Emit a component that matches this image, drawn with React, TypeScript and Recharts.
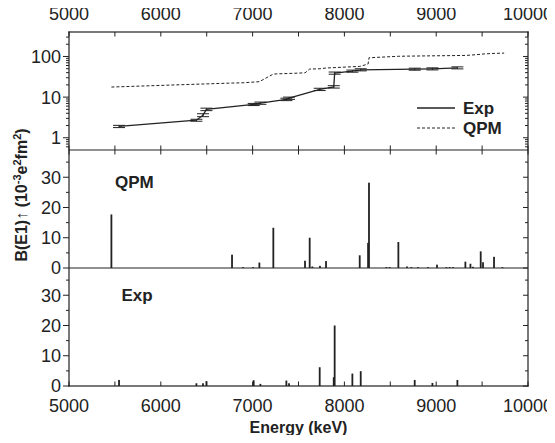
import React from 'react';
import {
  ComposedChart, Line, Bar, XAxis, YAxis, ErrorBar, Label, ReferenceLine, ReferenceArea,
} from 'recharts';

const INK = '#222';
const FONT = '"Liberation Sans", Arial, Helvetica, sans-serif';

// running sum of measured B(E1) strength, with uncertainties
const expSumEnergy = [5545, 6388, 6460, 6497, 7012, 7085, 7368, 7397, 7731, 7884, 7894, 8087, 8178, 8766, 8959, 9231];
const expSumValue = [1.9, 2.7, 3.6, 5.0, 6.6, 7.1, 8.8, 9.4, 15.5, 17.9, 39, 43.6, 47, 48.7, 49.6, 52.5];
const expSumError = [0.12, 0.15, 0.3, 0.35, 0.4, 0.45, 0.6, 0.6, 1.0, 1.2, 2.4, 2.6, 2.8, 2.8, 2.9, 3.0];

// running sum of QPM strength
const qpmSumEnergy = [5462, 6776, 6896, 7074, 7226, 7571, 7622, 7734, 7800, 8167, 8258, 8268, 8588, 8682, 9009, 9318, 9373, 9485, 9510, 9630, 9740];
const qpmSumValue = [17.7, 22.2, 22.5, 24, 37, 39.5, 49, 49.8, 52, 57, 65, 93, 101, 102, 104, 106, 108, 113, 115, 119, 121];

// individual QPM transitions
const qpmEnergy = [5462, 6776, 6896, 7005, 7074, 7226, 7571, 7622, 7651, 7734, 7800, 8167, 8258, 8268, 8457, 8493, 8588, 8682, 8730, 8802, 8911, 9009, 9111, 9147, 9183, 9318, 9373, 9401, 9485, 9510, 9630, 9721];
const qpmStrength = [17.7, 4.4, 0.3, 0.3, 1.8, 13.3, 2.4, 10.0, 0.5, 0.7, 2.3, 4.2, 8.3, 28.2, 0.3, 0.3, 8.6, 0.5, 0.3, 0.3, 0.3, 1.1, 0.3, 0.3, 0.3, 2.1, 1.4, 0.4, 5.5, 1.9, 3.7, 0.3];

// individual measured transitions
const expEnergy = [5545, 6388, 6460, 6497, 7012, 7085, 7368, 7397, 7731, 7884, 7894, 8087, 8178, 8766, 8959, 9231];
const expStrength = [2.0, 0.9, 0.9, 1.6, 1.9, 0.7, 1.8, 0.9, 6.2, 2.9, 20.0, 4.1, 4.9, 2.0, 1.0, 2.0];

const energyTicks = [5000, 5500, 6000, 6500, 7000, 7500, 8000, 8500, 9000, 9500, 10000];
const energyLabels = [5000, 6000, 7000, 8000, 9000, 10000];
const logTicks = [0.6, 0.7, 0.8, 0.9, 1, 2, 3, 4, 5, 6, 7, 8, 9, 10, 20, 30, 40, 50, 60, 70, 80, 90, 100, 200, 300];
const logLabels = [1, 10, 100];
const linTicks = [0, 5, 10, 15, 20, 25, 30, 35];
const linLabels = [0, 10, 20, 30];

const legendItems = [
  { name: 'Exp', dash: undefined as string | undefined },
  { name: 'QPM', dash: '3 2' },
];

const expSumData = expSumEnergy.map((e, i) => ({ e, v: expSumValue[i], err: expSumError[i] }));
const qpmSumData = qpmSumEnergy.map((e, i) => ({ e, v: qpmSumValue[i] }));
const stickData = [
  ...qpmEnergy.map((e, i) => ({ e, qpm: qpmStrength[i] })),
  ...expEnergy.map((e, i) => ({ e, exp: expStrength[i] })),
];

// plot spans 69..528 horizontally and 32..386 vertically, split at 150 and 268
const W = 555;
const H = 443;
const MARGIN = { top: 10, left: 20, right: 27, bottom: 20 };
const LEFT_W = 69 - MARGIN.left;
const TOP_H = 32 - MARGIN.top;
const BOTTOM_H = H - 386 - MARGIN.bottom;
const PLOT_W = W - 69 - MARGIN.right;
const SPLIT_1 = 150;
const THIN = 0.01;
const LW = 1.2;

// each y axis covers the whole plot height; its domain is stretched so
// that the visible range (0.5-400 or 0-39) falls inside its own panel
const LOG_DOMAIN = [7.81e-7, 400];
const MID_DOMAIN = [-39, 78];
const LOW_DOMAIN = [0, 117];
const MID_TOP = 39;

// top edge: inward marks, plus marks across the first panel boundary
function TopTick(p: any) {
  const x = Number(p.x);
  const y = Number(p.y);
  const v = p.payload.value;
  return (
    <g>
      <rect x={x - 0.5} y={y} width={1} height={4.5} fill={INK} />
      <rect x={x - 0.5} y={SPLIT_1 - 4.5} width={1} height={9} fill={INK} />
      {energyLabels.includes(v) && (
        <text x={x} y={y - 12.5} textAnchor="middle" fontSize={18} fontFamily={FONT} fill={INK}>
          {v}
        </text>
      )}
    </g>
  );
}

function BottomTick(p: any) {
  const x = Number(p.x);
  const y = Number(p.y);
  const v = p.payload.value;
  return (
    <g>
      <rect x={x - 0.5} y={y - 4.5} width={1} height={4.5} fill={INK} />
      {energyLabels.includes(v) && (
        <text x={x} y={y + 26} textAnchor="middle" fontSize={18} fontFamily={FONT} fill={INK}>
          {v}
        </text>
      )}
    </g>
  );
}

// outward tick + label on the left edge, inward tick on the right edge
function sideTick(p: any, majors: number[]) {
  const x = Number(p.x);
  const y = Number(p.y);
  const v = p.payload.value;
  const major = majors.includes(v);
  const left = major ? 6 : 3;
  const right = major ? 5 : 3;
  return (
    <g>
      <rect x={x - left} y={y - 0.5} width={left} height={1} fill={INK} />
      <rect x={x + PLOT_W - right} y={y - 0.5} width={right} height={1} fill={INK} />
      {major && (
        <text x={x - 8} y={y} dy="0.36em" textAnchor="end" fontSize={18} fontFamily={FONT} fill={INK}>
          {v}
        </text>
      )}
    </g>
  );
}
function LogTick(p: any) {
  return sideTick(p, logLabels);
}
function LinTick(p: any) {
  return sideTick(p, linLabels);
}

// outline of the whole plot area
function Frame(p: any) {
  const { x, y, width, height } = p;
  if (![x, y, width, height].every((n) => isFinite(n))) return null;
  return (
    <g>
      <rect x={x - LW / 2} y={y - LW / 2} width={width + LW} height={LW} fill={INK} />
      <rect x={x - LW / 2} y={y + height - LW / 2} width={width + LW} height={LW} fill={INK} />
      <rect x={x - LW / 2} y={y - LW / 2} width={LW} height={height + LW} fill={INK} />
      <rect x={x + width - LW / 2} y={y - LW / 2} width={LW} height={height + LW} fill={INK} />
    </g>
  );
}

function Stick(p: any) {
  const { x, y, width, height } = p;
  if (height == null || !isFinite(height) || !isFinite(x)) return null;
  const cx = x + width / 2;
  return <rect x={cx - 0.9} y={y} width={1.8} height={Math.max(height, 0)} fill={INK} />;
}

function AxisTitle() {
  const cx = 27;
  const cy = 195;
  return (
    <text
      x={cx}
      y={cy}
      transform={`rotate(-90 ${cx} ${cy})`}
      textAnchor="middle"
      fontSize={16}
      fontWeight="bold"
      fontFamily={FONT}
      fill={INK}
    >
      B(E1)↑ (10
      <tspan dy={-6} fontSize={11}>-3</tspan>
      <tspan dy={6}>e</tspan>
      <tspan dy={-6} fontSize={11}>2</tspan>
      <tspan dy={6}>fm</tspan>
      <tspan dy={-6} fontSize={11}>2</tspan>
      <tspan dy={6}>)</tspan>
    </text>
  );
}

function EnergyTitle() {
  return (
    <text x={69 + PLOT_W / 2} y={433} textAnchor="middle" fontSize={16} fontWeight="bold" fontFamily={FONT} fill={INK}>
      Energy (keV)
    </text>
  );
}

const textStyle: React.CSSProperties = {
  position: 'absolute',
  fontFamily: FONT,
  fontWeight: 'bold',
  fontSize: 17,
  lineHeight: '17px',
  color: INK,
};

export default function App() {
  return (
    <div style={{ position: 'relative', margin: -8, width: W, height: H }}>
      <ComposedChart width={W} height={H} margin={MARGIN} data={stickData}>
        <XAxis xAxisId="top" orientation="top" type="number" dataKey="e" domain={[5000, 10000]} ticks={energyTicks}
          interval={0} height={TOP_H} axisLine={false} tickLine={false} tickSize={0} tickMargin={0} tick={TopTick} />
        <XAxis xAxisId="bot" orientation="bottom" type="number" dataKey="e" domain={[5000, 10000]} ticks={energyTicks}
          interval={0} height={BOTTOM_H} axisLine={false} tickLine={false} tickSize={0} tickMargin={0} tick={BottomTick}>
          <Label content={EnergyTitle} />
        </XAxis>

        <YAxis yAxisId="a-mid" orientation="left" mirror type="number" domain={MID_DOMAIN} ticks={linTicks} interval={0}
          width={THIN} axisLine={false} tickLine={false} tickSize={0} tickMargin={0} tick={LinTick}>
          <Label content={AxisTitle} />
        </YAxis>
        <YAxis yAxisId="b-low" orientation="left" mirror type="number" domain={LOW_DOMAIN} ticks={linTicks} interval={0}
          width={THIN} axisLine={false} tickLine={false} tickSize={0} tickMargin={0} tick={LinTick} />
        <YAxis yAxisId="c-log" orientation="left" type="number" scale="log" domain={LOG_DOMAIN} ticks={logTicks}
          interval={0} width={LEFT_W} axisLine={false} tickLine={false} tickSize={0} tickMargin={0} tick={LogTick} />

        <ReferenceArea xAxisId="top" yAxisId="c-log" x1={5000} x2={10000} y1={LOG_DOMAIN[0]} y2={LOG_DOMAIN[1]}
          shape={Frame} ifOverflow="visible" />
        <ReferenceLine xAxisId="top" yAxisId="a-mid" y={MID_TOP} stroke={INK} strokeWidth={LW} ifOverflow="visible" />
        <ReferenceLine xAxisId="top" yAxisId="a-mid" y={0} stroke={INK} strokeWidth={LW} ifOverflow="visible" />

        <Line xAxisId="top" yAxisId="c-log" data={qpmSumData} dataKey="v" name="QPM" stroke={INK} strokeWidth={1}
          strokeDasharray="3 2" dot={false} isAnimationActive={false} />
        <Line xAxisId="top" yAxisId="c-log" data={expSumData} dataKey="v" name="Exp" stroke={INK} strokeWidth={1.3}
          dot={false} isAnimationActive={false}>
          <ErrorBar dataKey="err" width={6} stroke={INK} strokeWidth={1} isAnimationActive={false} />
        </Line>
        <Bar xAxisId="top" yAxisId="a-mid" dataKey="qpm" barSize={2} fill={INK} shape={Stick} isAnimationActive={false} />
        <Bar xAxisId="bot" yAxisId="b-low" dataKey="exp" barSize={2} fill={INK} shape={Stick} isAnimationActive={false} />
      </ComposedChart>

      {/* series key */}
      <div style={{ ...textStyle, left: 417, top: 98 }}>
        {legendItems.map((it) => (
          <div key={it.name} style={{ display: 'flex', alignItems: 'center', height: 20 }}>
            <svg width={38} height={4}>
              <line x1={0} x2={38} y1={2} y2={2} stroke={INK} strokeWidth={it.dash ? 1 : 1.3} strokeDasharray={it.dash} />
            </svg>
            <span style={{ marginLeft: 8 }}>{it.name}</span>
          </div>
        ))}
      </div>

      <div style={{ ...textStyle, left: 115, top: 173.6 }}>QPM</div>
      <div style={{ ...textStyle, left: 121.5, top: 286.6 }}>Exp</div>
    </div>
  );
}
